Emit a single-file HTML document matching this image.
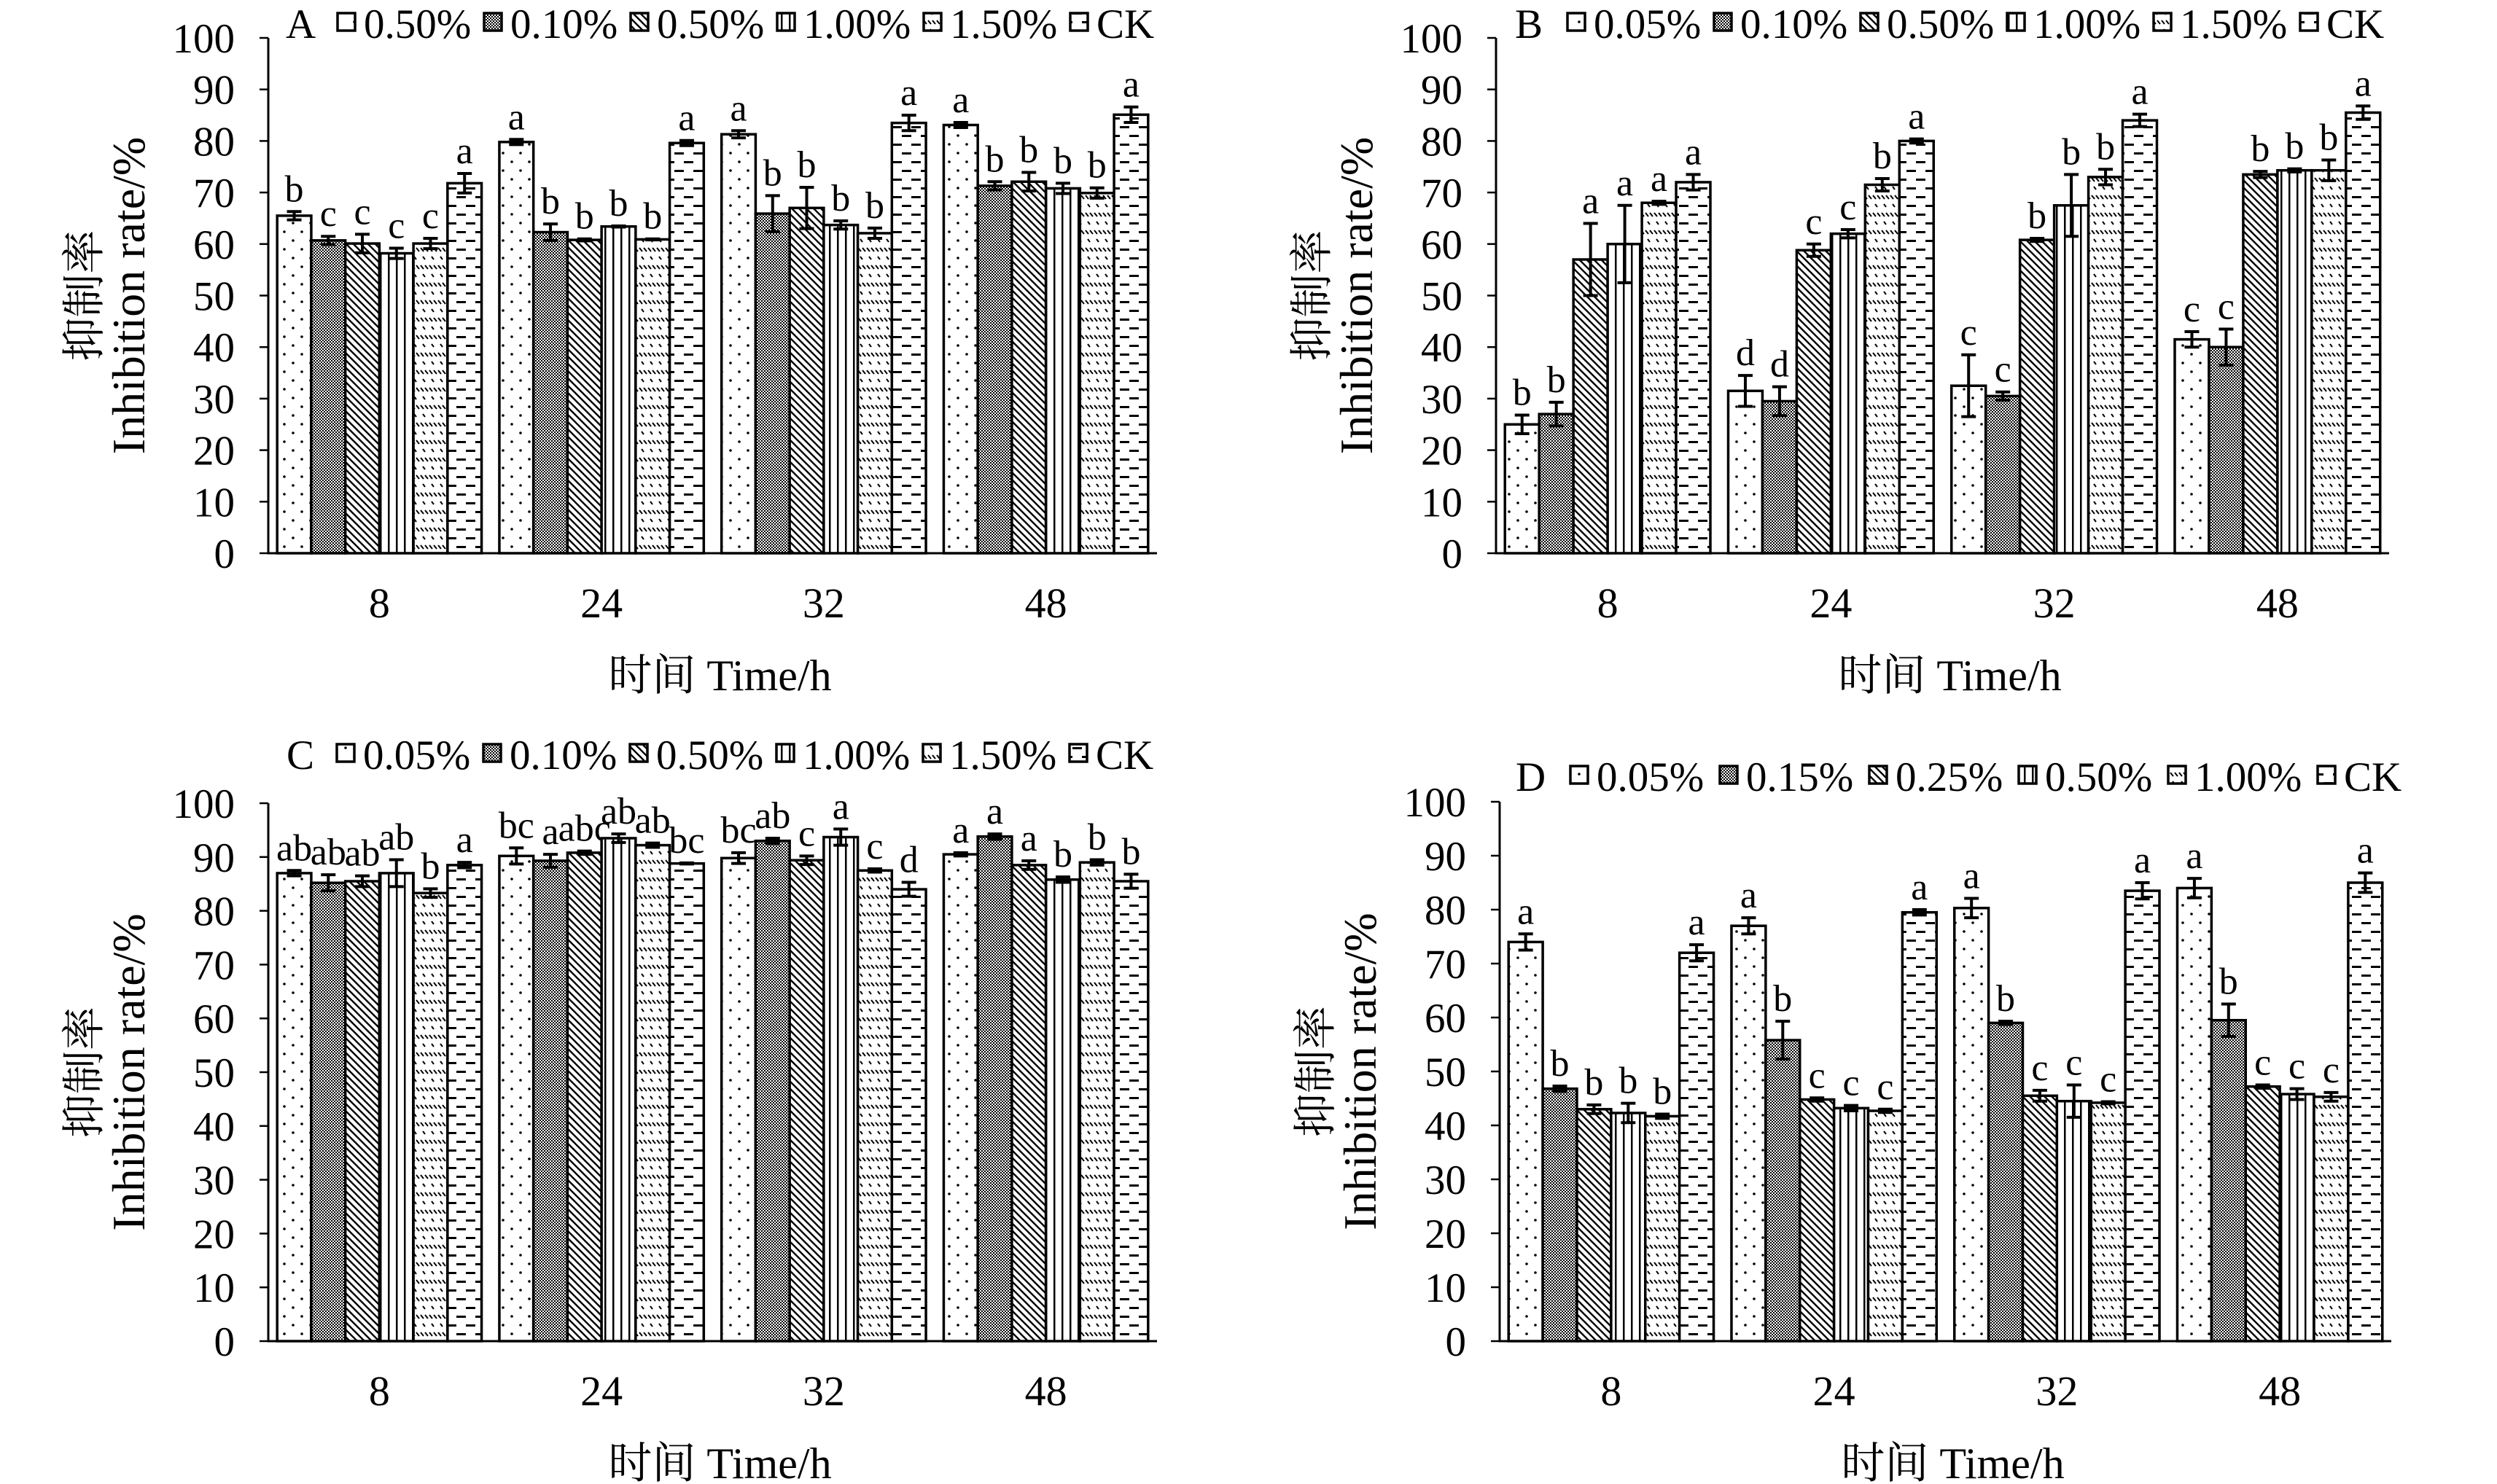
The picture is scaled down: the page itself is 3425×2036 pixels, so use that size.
<!DOCTYPE html>
<html><head><meta charset="utf-8"><style>
html,body{margin:0;padding:0;background:#fff;}
svg{display:block;}
text{font-family:"Liberation Serif","Noto Serif CJK SC","Noto Sans CJK SC",serif;fill:#000;}
</style></head><body>
<svg id="fig" xmlns="http://www.w3.org/2000/svg" width="3425" height="2036" viewBox="0 0 3425 2036">
<defs>
<pattern id="p0" patternUnits="userSpaceOnUse" width="24" height="24"><rect width="24" height="24" fill="#fff"/><circle cx="6" cy="6" r="1.8" fill="#000"/><circle cx="18" cy="18" r="1.8" fill="#000"/></pattern>
<pattern id="p1" patternUnits="userSpaceOnUse" width="4" height="4"><rect width="4" height="4" fill="#fff"/><rect width="2" height="2" fill="#000"/><rect x="2" y="2" width="2" height="2" fill="#000"/></pattern>
<pattern id="p2" patternUnits="userSpaceOnUse" width="10" height="10"><rect width="10" height="10" fill="#fff"/><path d="M-2,-2 L12,12 M-2,8 L2,12 M8,-2 L12,2" stroke="#000" stroke-width="2.4"/></pattern>
<pattern id="p3" patternUnits="userSpaceOnUse" width="11" height="11"><rect width="11" height="11" fill="#fff"/><rect x="4" width="2.5" height="11" fill="#000"/></pattern>
<pattern id="p4" patternUnits="userSpaceOnUse" width="24" height="24"><rect width="24" height="24" fill="#fff"/><path d="M1,4 L5,9 M7,4 L11,9 M13,4 L17,9 M19,4 L23,9 M4,16 L7,20 M16,16 L19,20" stroke="#000" stroke-width="2"/></pattern>
<pattern id="p5" patternUnits="userSpaceOnUse" width="26" height="24"><rect width="26" height="24" fill="#fff"/><rect x="2" y="5" width="13" height="3" fill="#000"/><rect x="15" y="17" width="11" height="3" fill="#000"/><rect x="0" y="17" width="2" height="3" fill="#000"/></pattern>
</defs>
</svg>
<script>
// ---- data ----
const categories = ["8","24","32","48"];
const yTicks = [0,10,20,30,40,50,60,70,80,90,100];
const legendA = ["0.50%","0.10%","0.50%","1.00%","1.50%","CK"];
const legendB = ["0.05%","0.10%","0.50%","1.00%","1.50%","CK"];
const legendC = ["0.05%","0.10%","0.50%","1.00%","1.50%","CK"];
const legendD = ["0.05%","0.15%","0.25%","0.50%","1.00%","CK"];
const valuesA = [[65.5,60.7,60.1,58.2,60.1,71.8],[79.8,62.3,60.8,63.4,60.9,79.6],[81.3,65.9,67.0,63.7,62.1,83.5],[83.1,71.3,72.1,70.8,69.9,85.1]];
const errorsA = [[0.8,0.8,1.8,1.0,1.0,1.9],[0.5,1.6,0.2,0.1,0.1,0.5],[0.7,3.5,4.0,0.8,1.0,1.5],[0.5,0.8,1.8,1.0,1.0,1.5]];
const lettersA = [["b","c","c","c","c","a"],["a","b","b","b","b","a"],["a","b","b","b","b","a"],["a","b","b","b","b","a"]];
const valuesB = [[25.0,27.0,57.0,60.0,68.0,72.0],[31.5,29.5,58.8,62.0,71.5,80.0],[32.5,30.5,60.8,67.5,73.0,84.0],[41.5,40.0,73.5,74.3,74.3,85.5]];
const errorsB = [[1.8,2.3,7.0,7.5,0.3,1.5],[3.0,2.8,1.2,0.8,1.2,0.4],[6.0,0.8,0.3,6.0,1.5,1.2],[1.5,3.5,0.6,0.3,2.0,1.3]];
const lettersB = [["b","b","a","a","a","a"],["d","d","c","c","b","a"],["c","c","b","b","b","a"],["c","c","b","b","b","a"]];
const valuesC = [[87.0,85.2,85.5,87.0,83.3,88.5],[90.2,89.3,90.8,93.5,92.2,88.8],[89.8,93.0,89.4,93.7,87.5,84.0],[90.5,93.8,88.5,85.8,89.0,85.5]];
const errorsC = [[0.5,1.5,1.0,2.5,0.8,0.5],[1.5,1.2,0.3,0.8,0.4,0.1],[1.0,0.5,0.8,1.5,0.3,1.3],[0.3,0.5,0.8,0.5,0.5,1.3]];
const lettersC = [["ab","ab","ab","ab","b","a"],["bc","a","abc","ab","ab","bc"],["bc","ab","c","a","c","d"],["a","a","a","b","b","b"]];
const valuesD = [[74.0,46.8,43.0,42.3,41.7,72.0],[77.0,55.8,44.8,43.2,42.7,79.5],[80.3,59.0,45.5,44.5,44.2,83.5],[84.0,59.5,47.2,45.8,45.3,85.0]];
const errorsD = [[1.5,0.5,0.8,1.8,0.4,1.5],[1.5,3.5,0.3,0.5,0.3,0.5],[1.8,0.3,1.0,3.0,0.2,1.5],[1.8,3.0,0.3,1.0,0.8,1.8]];
const lettersD = [["a","b","b","b","b","a"],["a","b","c","c","c","a"],["a","b","c","c","c","a"],["a","b","c","c","c","a"]];

const NS="http://www.w3.org/2000/svg";
const svg=document.getElementById('fig');
function mk(tag,attrs,parent){const e=document.createElementNS(NS,tag);for(const k in attrs)e.setAttribute(k,attrs[k]);(parent||svg).appendChild(e);return e;}
function txt(x,y,s,anchor,size,parent){const t=mk('text',{x:x,y:y,'text-anchor':anchor,'font-size':size},parent);t.textContent=s;return t;}

const panels=[
 {id:'a',tag:'A',x0:368,x1:1587,top:52,bot:759,legY:52,tagX:392,boxX:463,pitch:201,leg:legendA,vals:valuesA,errs:errorsA,lets:lettersA},
 {id:'b',tag:'B',x0:2052,x1:3277,top:52,bot:759,legY:52,tagX:2078,boxX:2150,pitch:201,leg:legendB,vals:valuesB,errs:errorsB,lets:lettersB},
 {id:'c',tag:'C',x0:368,x1:1587,top:1102,bot:1840,legY:1055,tagX:393,boxX:462,pitch:201,leg:legendC,vals:valuesC,errs:errorsC,lets:lettersC},
 {id:'d',tag:'D',x0:2057,x1:3280,top:1100,bot:1840,legY:1085,tagX:2079,boxX:2154,pitch:205,leg:legendD,vals:valuesD,errs:errorsD,lets:lettersD}
];

panels.forEach(p=>{
 const g=mk('g',{});
 
 
 const yS=v=>p.bot-(v/100)*(p.bot-p.top);
 const cw=(p.x1-p.x0)/categories.length;
 const bw=cw*0.92/6;
 p.vals.forEach((row,ci)=>{
  const start=p.x0+ci*cw+(cw-6*bw)/2;
  row.forEach((v,si)=>{
   const x=start+si*bw, y=yS(v);
   const r=mk('rect',{x:x,y:y,width:bw,height:p.bot-y,fill:'url(#p'+si+')',stroke:'#000','stroke-width':3.5},g);
   
   
   const e=p.errs[ci][si], cx=x+bw/2;
   const eb=mk('path',{d:`M${cx},${yS(v-e)} L${cx},${yS(v+e)} M${cx-10},${yS(v-e)} L${cx+10},${yS(v-e)} M${cx-10},${yS(v+e)} L${cx+10},${yS(v+e)}`,stroke:'#000','stroke-width':4,fill:'none'},g);
   
   
   const lt=txt(cx,yS(v+e)-14,p.lets[ci][si],'middle',52,g);
   
   
  });
  const xl=txt(p.x0+ci*cw+cw/2,p.bot+88,categories[ci],'middle',58,g);
  
  
 });
 const ax=mk('path',{d:`M${p.x0},${p.top} L${p.x0},${p.bot} L${p.x1},${p.bot}`,stroke:'#000','stroke-width':3,fill:'none'},g);
 
 
 yTicks.forEach(t=>{
  const y=yS(t);
  const tk=mk('line',{x1:p.x0-12,y1:y,x2:p.x0,y2:y,stroke:'#000','stroke-width':2.5},g);
  
  
  const tl=txt(p.x0-46,y+20,String(t),'end',57,g);
  
  
 });
 const cy=(p.top+p.bot)/2;
 const t1=mk('text',{x:0,y:0,'text-anchor':'middle','font-size':64,transform:`translate(${p.x0-170},${cy}) rotate(-90)`},g);
 t1.textContent='Inhibition rate/%';
 
 
 const t2=mk('text',{x:0,y:0,'text-anchor':'middle','font-size':60,transform:`translate(${p.x0-232},${cy}) rotate(-90)`},g);
 t2.textContent='抑制率';
 
 
 const xt=txt((p.x0+p.x1)/2+10,p.bot+188,'时间 Time/h','middle',60,g);
 
 
 const pl=txt(p.tagX,p.legY,p.tag,'start',57,g);
 
 
 p.leg.forEach((s,i)=>{
  const bx=p.boxX+i*p.pitch;
  const lg=mk('g',{},g);
  
  
  mk('rect',{x:bx,y:p.legY-34,width:24,height:24,fill:'url(#p'+i+')',stroke:'#000','stroke-width':3.5},lg);
  txt(bx+36,p.legY,s,'start',57,lg);
 });
});
</script>
</body></html>
